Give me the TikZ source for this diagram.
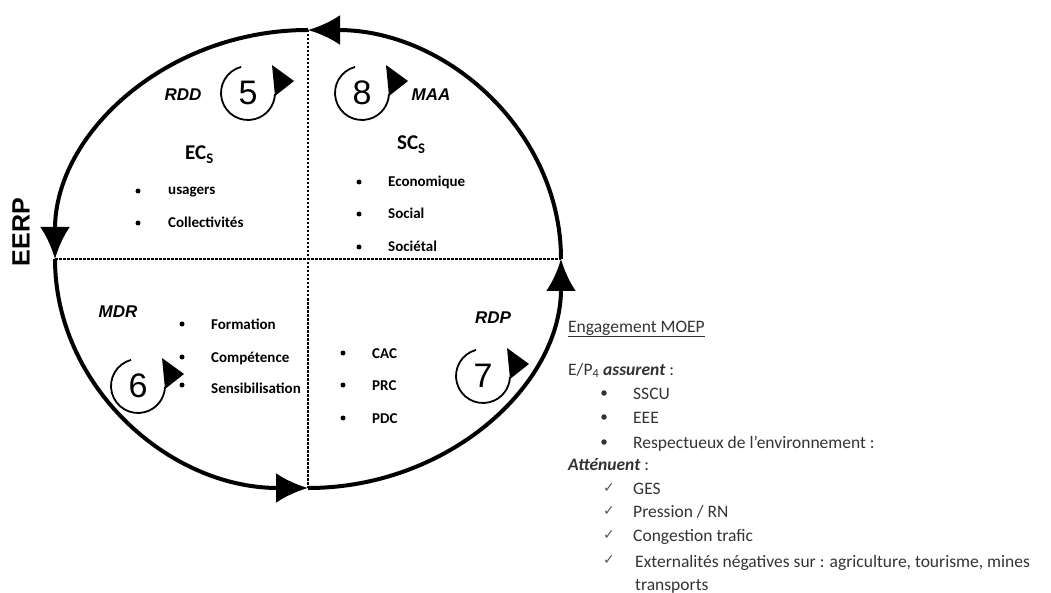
\documentclass[tikz,border=0pt]{standalone}
\usepackage{fontspec}
\setmainfont{Carlito}
\newfontfamily\arialf{Liberation Sans}
\newfontfamily\symf{DejaVu Sans}
\usetikzlibrary{arrows.meta}
\definecolor{ink}{HTML}{333333}
\definecolor{chk}{HTML}{555555}
\tikzset{
  ring/.style={line width=4pt, -{Latex[length=32pt,width=30pt]}},
  quad/.style={line width=1.7pt, dash pattern=on 2.5pt off 1.5pt},
  cycline/.style={line width=1.8pt},
  cyc/.pic={
    \draw[cycline] (-105:27) arc[start angle=-105, end angle=-358, radius=27];
    \fill (24,-28) -- (46,-12) -- (27,3) -- cycle;
  },
  num/.style={font=\arialf\fontsize{34}{34}\selectfont, inner sep=0pt},
  tag/.style={font=\arialf\bfseries\itshape\fontsize{17}{17}\selectfont, inner sep=0pt},
  head/.style={font=\bfseries\fontsize{21}{21}\selectfont, inner sep=0pt, anchor=base west},
  item/.style={font=\bfseries\fontsize{15}{15}\selectfont, inner sep=0pt, anchor=base west},
  dotn/.style={circle, fill, inner sep=0pt, minimum size=5pt},
  rtxt/.style={font=\fontsize{17.5}{17.5}\selectfont, text=ink, inner sep=0pt, anchor=base west},
  rdot/.style={circle, fill=ink, inner sep=0pt, minimum size=5.5pt},
  rchk/.style={font=\symf\fontsize{14}{14}\selectfont, text=chk, inner sep=0pt, anchor=base west},
}
\begin{document}
\begin{tikzpicture}[x=1pt, y=-1pt]
\useasboundingbox (0,0) rectangle (1051,593);

% ellipse cardinal points
\coordinate (R) at (561,259);
\coordinate (T) at (308,30);
\coordinate (L) at (55,259);
\coordinate (B) at (308,488);

% quadrant lines
\draw[quad] (L) -- (R);
\draw[quad] (T) -- (B);

% ring with arrows
\draw[ring] (R) arc[start angle=0, end angle=-90, x radius=253, y radius=229];
\draw[ring] (T) arc[start angle=-90, end angle=-180, x radius=253, y radius=229];
\draw[ring] (L) arc[start angle=-180, end angle=-270, x radius=253, y radius=229];
\draw[ring] (B) arc[start angle=-270, end angle=-360, x radius=253, y radius=229];

% EERP
\node[font=\arialf\bfseries\fontsize{25}{25}\selectfont, rotate=90, inner sep=0pt] (eerp) at (21,232) {EERP};

% cycle symbols
\pic at (248,93) {cyc};
\node[num] (n5) at (248,93) {5};
\pic at (362,93) {cyc};
\node[num] (n8) at (362,93) {8};
\pic at (138,386) {cyc};
\node[num] (n6) at (138,386) {6};
\pic at (483,376) {cyc};
\node[num] (n7) at (483,376) {7};

% tags
\node[tag] (rdd) at (183,95) {RDD};
\node[tag] (maa) at (431,95) {MAA};
\node[tag] (mdr) at (118,312) {MDR};
\node[tag] (rdp) at (493,318) {RDP};

% top-left quadrant
\node[head] (ecs) at (185,160) {EC\textsubscript{S}};
\node[dotn] (d1) at (138,191) {};
\node[item] (i1) at (168,195) {usagers};
\node[dotn] (d2) at (138,223) {};
\node[item] (i2) at (168,228) {Collectivités};

% top-right quadrant
\node[head] (scs) at (397,150) {SC\textsubscript{S}};
\node[dotn] (d3) at (359,182) {};
\node[item] (i3) at (388,187) {Economique};
\node[dotn] (d4) at (359,214) {};
\node[item] (i4) at (388,219) {Social};
\node[dotn] (d5) at (359,247) {};
\node[item] (i5) at (388,252) {Sociétal};

% bottom-left quadrant
\node[dotn] (d6) at (182,324) {};
\node[item] (i6) at (211,329) {Formation};
\node[dotn] (d7) at (182,357) {};
\node[item] (i7) at (211,362) {Compétence};
\node[dotn] (d8) at (182,385) {};
\node[item] (i8) at (211,393) {Sensibilisation};

% bottom-right quadrant
\node[dotn] (d9) at (343,353) {};
\node[item] (i9) at (372,358) {CAC};
\node[dotn] (d10) at (343,385) {};
\node[item] (i10) at (372,390) {PRC};
\node[dotn] (d11) at (343,418) {};
\node[item] (i11) at (372,423) {PDC};

% right text block
\node[rtxt] (eng) at (568,332) {\underline{Engagement MOEP}};
\node[rtxt] (ep) at (568,375) {E/P\textsubscript{4} \textbf{\textit{assurent}} :};
\node[rdot] (r1) at (604,393) {};
\node[rtxt] (t1) at (633,399) {SSCU};
\node[rdot] (r2) at (604,417) {};
\node[rtxt] (t2) at (633,423) {EEE};
\node[rdot] (r3) at (604,442) {};
\node[rtxt] (t3) at (633,448) {Respectueux de l’environnement :};
\node[rtxt] (att) at (568,470) {\textbf{\textit{Atténuent}} :};
\node[rchk] (c1) at (603,492) {✓};
\node[rtxt] (t4) at (633,494) {GES};
\node[rchk] (c2) at (603,515) {✓};
\node[rtxt] (t5) at (633,517) {Pression / RN};
\node[rchk] (c3) at (603,539) {✓};
\node[rtxt] (t6) at (633,541) {Congestion trafic};
\node[rchk] (c4) at (603,564) {✓};
\node[rtxt] (t7) at (635,567) {Externalités négatives sur : agriculture, tourisme, mines};
\node[rtxt] (t8) at (635,590) {transports};
\end{tikzpicture}
\end{document}
